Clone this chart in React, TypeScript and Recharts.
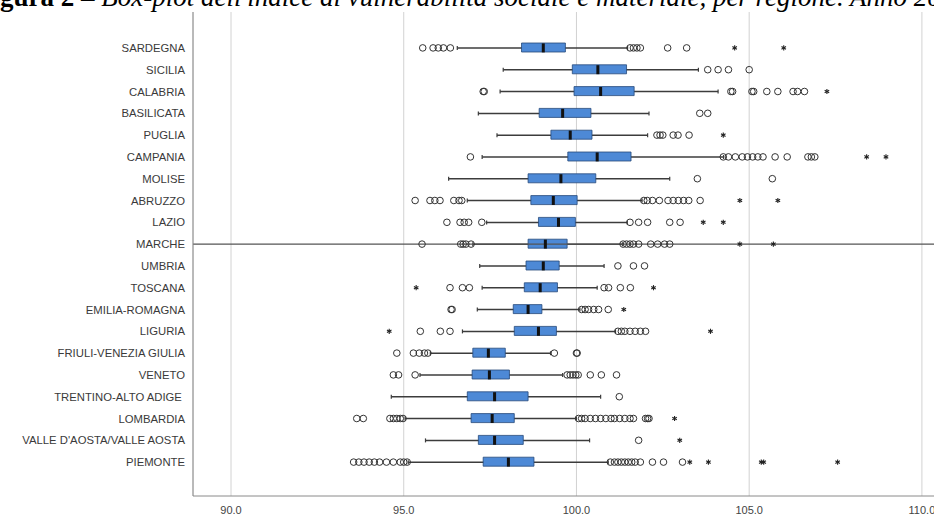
import React from 'react';
import { ComposedChart, Bar, Scatter, XAxis, YAxis, CartesianGrid, ReferenceLine } from 'recharts';

const TITLE_BOLD = 'Figura 2 – ';
const TITLE_ITALIC = "Box-plot dell'indice di vulnerabilità sociale e materiale, per regione. Anno 20";

const REGIONS = [
  'SARDEGNA', 'SICILIA', 'CALABRIA', 'BASILICATA', 'PUGLIA', 'CAMPANIA', 'MOLISE', 'ABRUZZO', 'LAZIO', 'MARCHE',
  'UMBRIA', 'TOSCANA', 'EMILIA-ROMAGNA', 'LIGURIA', 'FRIULI-VENEZIA GIULIA', 'VENETO', 'TRENTINO-ALTO ADIGE\u00a0',
  'LOMBARDIA', "VALLE D'AOSTA/VALLE AOSTA", 'PIEMONTE',
];

const WHISKER_LOW = [96.55, 97.88, 97.79, 97.16, 97.7, 97.27, 96.3, 96.84, 97.4, 97.0, 97.2, 97.27, 97.13, 96.7, 95.77, 95.47, 94.64, 95.04, 95.63, 95.13];
const Q1 = [98.41, 99.88, 99.93, 98.92, 99.26, 99.75, 98.6, 98.68, 98.9, 98.6, 98.54, 98.49, 98.17, 98.2, 97.0, 96.98, 96.84, 96.95, 97.16, 97.3];
const MEDIAN = [99.04, 100.62, 100.7, 99.6, 99.82, 100.6, 99.55, 99.33, 99.48, 99.1, 99.04, 98.95, 98.6, 98.9, 97.45, 97.48, 97.63, 97.56, 97.63, 98.03];
const Q3 = [99.68, 101.45, 101.67, 100.42, 100.45, 101.58, 100.56, 100.02, 99.97, 99.73, 99.5, 99.45, 99.0, 99.42, 97.94, 98.06, 98.6, 98.2, 98.46, 98.77];
const WHISKER_HIGH = [101.48, 103.53, 104.1, 102.1, 102.06, 104.26, 102.7, 101.9, 101.47, 101.33, 100.8, 100.6, 100.1, 101.13, 99.25, 99.6, 100.7, 100.0, 100.38, 100.92];

// cerchi = outlier, asterischi = valori estremi
const OUTLIERS: number[][] = [
  [95.55, 95.85, 96.0, 96.15, 96.35, 101.55, 101.65, 101.75, 101.85, 102.64, 103.19],
  [103.8, 104.1, 104.4, 105.0],
  [97.3, 97.33, 104.47, 104.52, 105.08, 105.13, 105.51, 105.83, 106.27, 106.4, 106.6],
  [103.57, 103.8],
  [102.33, 102.42, 102.5, 102.8, 102.94, 103.26],
  [96.93, 104.25, 104.4, 104.6, 104.8, 104.95, 105.1, 105.25, 105.4, 105.75, 106.1, 106.7, 106.8, 106.9],
  [103.5, 105.67],
  [95.33, 95.76, 95.9, 96.05, 96.45, 96.6, 96.68, 101.95, 102.05, 102.2, 102.4, 102.65, 102.8, 102.95, 103.1, 103.25, 103.58],
  [96.25, 96.63, 96.75, 96.88, 97.26, 101.55, 101.8, 102.06, 102.7, 103.0],
  [95.53, 96.65, 96.72, 96.8, 96.95, 101.35, 101.45, 101.55, 101.65, 101.8, 102.15, 102.35, 102.55, 102.7],
  [101.2, 101.65, 101.97],
  [96.34, 96.7, 96.9, 100.8, 100.93, 101.27, 101.56],
  [96.37, 96.4, 100.15, 100.25, 100.35, 100.5, 100.64, 100.92],
  [95.48, 96.06, 96.34, 101.2, 101.3, 101.4, 101.55, 101.7, 101.85, 102.0],
  [94.8, 95.28, 95.45, 95.6, 95.7, 99.36, 100.0, 100.02],
  [94.7, 94.85, 95.33, 99.73, 99.82, 99.9, 99.98, 100.05, 100.4, 100.72, 101.16],
  [101.24],
  [93.64, 93.83, 94.6, 94.7, 94.8, 94.9, 94.98, 100.06, 100.15, 100.25, 100.4, 100.55, 100.7, 100.85, 101.0, 101.1, 101.25, 101.4, 101.55, 101.65, 102.0, 102.06, 102.1],
  [101.8],
  [93.55, 93.7, 93.85, 94.0, 94.15, 94.3, 94.5, 94.7, 94.9, 95.0, 95.1, 100.98, 101.1, 101.2, 101.3, 101.4, 101.5, 101.6, 101.7, 101.85, 102.2, 102.52, 103.07],
];

const EXTREMES: number[][] = [
  [104.58, 106.0],
  [],
  [107.25],
  [],
  [104.25],
  [108.4, 108.96],
  [],
  [104.73, 105.83],
  [103.67, 104.25],
  [104.73, 105.7],
  [],
  [95.36, 102.23],
  [101.37],
  [94.58, 103.88],
  [],
  [],
  [],
  [102.84],
  [102.99],
  [103.28, 103.82, 105.35, 105.42, 107.56],
];

const X_TICKS = [90, 95, 100, 105, 110];
const X_DOMAIN: [number, number] = [88.9, 110.9];
const ROW_DOMAIN: [number, number] = [-0.5, REGIONS.length - 0.5];
const PAD = { top: 25, bottom: 23 };

const rows = REGIONS.map((region, i) => ({
  region,
  whisker: [WHISKER_LOW[i], WHISKER_HIGH[i]],
  box: [Q1[i], Q3[i]],
}));
const medianPts = MEDIAN.map((v, i) => ({ v, row: i }));
const outlierPts = OUTLIERS.flatMap((vals, i) => vals.map((v) => ({ v, row: i })));
const extremePts = EXTREMES.flatMap((vals, i) => vals.map((v) => ({ v, row: i })));

const INK = '#333';
const SANS = "'Liberation Sans', Arial, sans-serif";

function RegionTick(p: any) {
  return (
    <text x={p.x} y={p.y} dy="0.36em" textAnchor="end" fontSize={11.3} fontFamily={SANS} fill="#3a3a3a" style={{ whiteSpace: 'pre' }}>
      {p.payload.value}
    </text>
  );
}

function WhiskerShape(p: any) {
  const cy = p.y + p.height / 2;
  const x2 = p.x + p.width;
  return (
    <g>
      <line x1={p.x} x2={x2} y1={cy} y2={cy} stroke="#3c3c3c" strokeWidth={1.5} />
      <line x1={p.x} x2={p.x} y1={cy - 2} y2={cy + 2} stroke="#3c3c3c" strokeWidth={1.2} />
      <line x1={x2} x2={x2} y1={cy - 2} y2={cy + 2} stroke="#3c3c3c" strokeWidth={1.2} />
    </g>
  );
}

function MedianShape(p: any) {
  return <rect x={p.cx - 1.5} y={p.cy - 4.5} width={3} height={9} fill="#111" />;
}

function CircleShape(p: any) {
  return <circle cx={p.cx} cy={p.cy} r={3.3} fill="none" stroke={INK} strokeWidth={1} />;
}

function StarShape(p: any) {
  const r = 2.6;
  const d = r * 0.87;
  return (
    <g stroke="#222" strokeWidth={1.1}>
      <line x1={p.cx} x2={p.cx} y1={p.cy - r} y2={p.cy + r} />
      <line x1={p.cx - d} x2={p.cx + d} y1={p.cy - r / 2} y2={p.cy + r / 2} />
      <line x1={p.cx - d} x2={p.cx + d} y1={p.cy + r / 2} y2={p.cy - r / 2} />
    </g>
  );
}

export default function App() {
  return (
    <div style={{ position: 'fixed', left: 0, top: 0, width: 934, height: 516, overflow: 'hidden', background: '#fff' }}>
      <svg width={934} height={20} style={{ position: 'absolute', left: 0, top: 0 }}>
        <text x={-24} y={6} fontFamily="'Liberation Serif', 'Times New Roman', serif" fontSize={27} fill="#000">
          <tspan fontWeight="bold">{TITLE_BOLD}</tspan>
          <tspan fontStyle="italic">{TITLE_ITALIC}</tspan>
        </text>
      </svg>
      <div style={{ position: 'absolute', left: 0, top: 0 }}>
        <ComposedChart width={953} height={520} data={rows} layout="vertical" margin={{ top: 12, right: 0, bottom: 0, left: 0 }}>
          <CartesianGrid horizontal={false} stroke="#d2d2d2" strokeWidth={1} />
          <XAxis
            type="number"
            domain={X_DOMAIN}
            ticks={X_TICKS}
            allowDataOverflow
            tickFormatter={(v) => Number(v).toFixed(1)}
            axisLine={{ stroke: '#8a8a8a' }}
            tickLine={false}
            tickSize={8}
            height={24}
            tick={{ fill: '#444', fontSize: 11, fontFamily: SANS }}
          />
          <XAxis xAxisId="s" type="number" dataKey="v" domain={X_DOMAIN} allowDataOverflow hide />
          <YAxis
            type="category"
            dataKey="region"
            width={193}
            padding={PAD}
            axisLine={{ stroke: '#8a8a8a' }}
            tickLine={false}
            interval={0}
            tick={RegionTick}
          />
          <YAxis yAxisId="box" type="category" dataKey="region" padding={PAD} hide />
          <YAxis yAxisId="num" type="number" dataKey="row" domain={ROW_DOMAIN} allowDataOverflow padding={PAD} hide />
          <ReferenceLine xAxisId="s" yAxisId="num" y={REGIONS.indexOf('MARCHE')} stroke="#555" strokeWidth={1.3} />
          <Bar dataKey="whisker" barSize={6} shape={WhiskerShape} isAnimationActive={false} />
          <Bar yAxisId="box" dataKey="box" barSize={9} fill="#4d89d6" stroke="#26497a" strokeWidth={0.8} isAnimationActive={false} />
          <Scatter data={medianPts} xAxisId="s" yAxisId="num" dataKey="v" shape={MedianShape} isAnimationActive={false} />
          <Scatter data={outlierPts} xAxisId="s" yAxisId="num" dataKey="v" shape={CircleShape} isAnimationActive={false} />
          <Scatter data={extremePts} xAxisId="s" yAxisId="num" dataKey="v" shape={StarShape} isAnimationActive={false} />
        </ComposedChart>
      </div>
    </div>
  );
}
